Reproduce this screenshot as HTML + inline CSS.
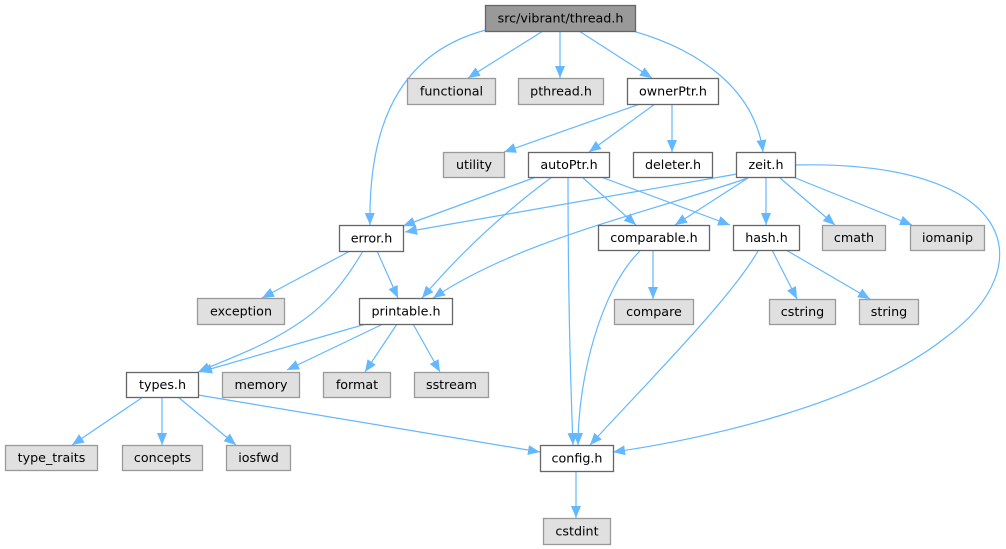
<!DOCTYPE html>
<html><head><meta charset="utf-8"><style>
html,body{margin:0;padding:0;background:#fff;width:1006px;height:549px;overflow:hidden}
svg text{font-family:"DejaVu Sans","Liberation Sans",sans-serif;font-size:12.7px;fill:#000}
</style></head><body>
<svg width="1006" height="549" viewBox="0 0 1006 549" xmlns="http://www.w3.org/2000/svg">
<defs>
<marker id="a" markerUnits="userSpaceOnUse" markerWidth="14" markerHeight="12" refX="12" refY="5" orient="auto">
<path d="M0,0 L12,5 L0,10 Z" fill="#63b8ff"/>
</marker>
</defs>
<g fill="none" stroke="#63b8ff" stroke-width="1.2" marker-end="url(#a)">
<path d="M543,31 L468,78"/>
<path d="M560,31 L560,78"/>
<path d="M579,31 L652,78"/>
<path d="M633,31 C700,50 755,90 763,152"/>
<path d="M486,30 C410,50 368,110 370,225"/>
<path d="M640,104 L504,152"/>
<path d="M655,104 L589,152"/>
<path d="M672,104 L672,152"/>
<path d="M536,177 L403,226"/>
<path d="M737,174 L405,232"/>
<path d="M552,177 Q480,230 422,298"/>
<path d="M748,178 C640,215 520,240 433,298"/>
<path d="M568,177 Q568,320 573,445"/>
<path d="M582,177 L636,225"/>
<path d="M601,177 L730,225"/>
<path d="M748,178 L675,225"/>
<path d="M766,178 L766,225"/>
<path d="M780,178 L835,225"/>
<path d="M793,177 L912,225"/>
<path d="M795,165 C1015,160 1045,265 945,338 C860,405 700,440 613,452"/>
<path d="M653,250 L653,299"/>
<path d="M640,251 C600,290 578,380 578,445"/>
<path d="M758,251 C730,300 640,390 590,445"/>
<path d="M772,250 L797,299"/>
<path d="M786,250 L870,299"/>
<path d="M350,251 L262,298"/>
<path d="M377,251 L398,298"/>
<path d="M363,251 C340,290 320,310 293,327 C260,348 230,358 198,372"/>
<path d="M366,324 L200,372"/>
<path d="M383,324 L287,370"/>
<path d="M397,324 L365,372"/>
<path d="M413,324 L440,372"/>
<path d="M143,397 L72,445"/>
<path d="M162,397 L162,445"/>
<path d="M178,397 L236,445"/>
<path d="M198,395 L540,452"/>
<path d="M576,471 L576,518"/>
</g>
<g stroke-width="1.3">
<rect x="485.5" y="5.5" width="150" height="26" fill="#999" stroke="#666"/>
<rect x="407.5" y="78.5" width="88" height="26" fill="#e0e0e0" stroke="#999"/>
<rect x="518.5" y="78.5" width="85" height="26" fill="#e0e0e0" stroke="#999"/>
<rect x="627.5" y="78.5" width="91" height="26" fill="#fff" stroke="#666"/>
<rect x="443.5" y="152.5" width="61" height="25" fill="#e0e0e0" stroke="#999"/>
<rect x="528.5" y="152.5" width="81" height="25" fill="#fff" stroke="#666"/>
<rect x="633.5" y="152.5" width="79" height="25" fill="#fff" stroke="#666"/>
<rect x="736.5" y="152.5" width="59" height="25" fill="#fff" stroke="#666"/>
<rect x="339.5" y="225.5" width="64" height="26" fill="#fff" stroke="#666"/>
<rect x="598.5" y="225.5" width="111" height="25" fill="#fff" stroke="#666"/>
<rect x="733.5" y="225.5" width="66" height="25" fill="#fff" stroke="#666"/>
<rect x="822.5" y="225.5" width="63" height="25" fill="#e0e0e0" stroke="#999"/>
<rect x="910.5" y="225.5" width="74" height="25" fill="#e0e0e0" stroke="#999"/>
<rect x="197.5" y="298.5" width="87" height="26" fill="#e0e0e0" stroke="#999"/>
<rect x="359.5" y="298.5" width="93" height="26" fill="#fff" stroke="#666"/>
<rect x="614.5" y="299.5" width="79" height="25" fill="#e0e0e0" stroke="#999"/>
<rect x="769.5" y="299.5" width="66" height="25" fill="#e0e0e0" stroke="#999"/>
<rect x="859.5" y="299.5" width="59" height="25" fill="#e0e0e0" stroke="#999"/>
<rect x="126.5" y="372.5" width="72" height="25" fill="#fff" stroke="#666"/>
<rect x="222.5" y="372.5" width="77" height="25" fill="#e0e0e0" stroke="#999"/>
<rect x="323.5" y="372.5" width="67" height="25" fill="#e0e0e0" stroke="#999"/>
<rect x="414.5" y="372.5" width="74" height="25" fill="#e0e0e0" stroke="#999"/>
<rect x="5.5" y="445.5" width="92" height="25" fill="#e0e0e0" stroke="#999"/>
<rect x="122.5" y="445.5" width="80" height="25" fill="#e0e0e0" stroke="#999"/>
<rect x="226.5" y="445.5" width="64" height="25" fill="#e0e0e0" stroke="#999"/>
<rect x="540.5" y="445.5" width="73" height="26" fill="#fff" stroke="#666"/>
<rect x="543.5" y="518.5" width="67" height="26" fill="#e0e0e0" stroke="#999"/>
</g>
<g text-anchor="middle">
<text x="560.5" y="22.5">src/vibrant/thread.h</text>
<text x="451.5" y="95.5">functional</text>
<text x="561" y="95.5">pthread.h</text>
<text x="673" y="95.5">ownerPtr.h</text>
<text x="474" y="169">utility</text>
<text x="569" y="169">autoPtr.h</text>
<text x="673" y="169">deleter.h</text>
<text x="766" y="169">zeit.h</text>
<text x="371.5" y="242.5">error.h</text>
<text x="654" y="242">comparable.h</text>
<text x="766.5" y="242">hash.h</text>
<text x="854" y="242">cmath</text>
<text x="947.5" y="242">iomanip</text>
<text x="241" y="315.5">exception</text>
<text x="406" y="315.5">printable.h</text>
<text x="654" y="316">compare</text>
<text x="802.5" y="316">cstring</text>
<text x="889" y="316">string</text>
<text x="162.5" y="389">types.h</text>
<text x="261" y="389">memory</text>
<text x="357" y="389">format</text>
<text x="451.5" y="389">sstream</text>
<text x="51.5" y="462">type_traits</text>
<text x="162.5" y="462">concepts</text>
<text x="258.5" y="462">iosfwd</text>
<text x="577" y="462.5">config.h</text>
<text x="577" y="535.5">cstdint</text>
</g>
</svg>
</body></html>
